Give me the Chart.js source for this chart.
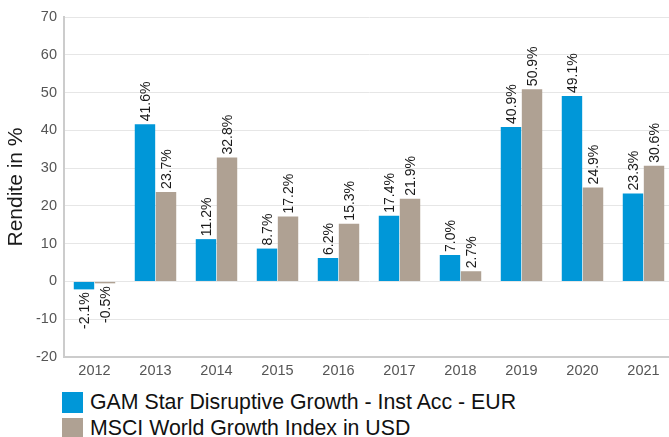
<!DOCTYPE html>
<html>
<head>
<meta charset="utf-8">
<script src="https://cdn.jsdelivr.net/npm/chart.js@4.4.0/dist/chart.umd.min.js"></script>
<style>
  html, body { margin: 0; padding: 0; background: #fff; overflow: hidden; }
  #wrap { position: relative; width: 675px; height: 437px; }
  #box { position: absolute; left: 0; top: 0; width: 675px; height: 384px; }
  #legend { position: absolute; left: 62px; top: 389px; font-family: "Liberation Sans", Arial, sans-serif; font-size: 21.3px; color: #111; }
  .item { display: flex; align-items: center; height: 26px; margin: 0; }
  .sw { width: 21px; height: 21px; margin-right: 7px; flex: none; }
</style>
</head>
<body>
<div id="wrap">
  <div id="box"><canvas id="reportChart"></canvas></div>
  <div id="legend"></div>
</div>
<script>
var years = ['2012', '2013', '2014', '2015', '2016', '2017', '2018', '2019', '2020', '2021']
var gamValues = [-2.1, 41.6, 11.2, 8.7, 6.2, 17.4, 7.0, 40.9, 49.1, 23.3]
var msciValues = [-0.5, 23.7, 32.8, 17.2, 15.3, 21.9, 2.7, 50.9, 24.9, 30.6]
var seriesNames = ['GAM Star Disruptive Growth - Inst Acc - EUR', 'MSCI World Growth Index in USD']
var seriesColors = ['#0097d8', '#afa193']

var fontName = '"Liberation Sans", Arial, sans-serif'

// value labels, rotated, at the end of each bar
var barLabels = {
    id: 'barLabels',
    afterDatasetsDraw: function(chart) {
        var ctx = chart.ctx
        ctx.save()
        ctx.font = '14px ' + fontName
        ctx.fillStyle = '#1a1a1a'
        ctx.textBaseline = 'middle'
        chart.data.datasets.forEach(function(ds, i) {
            var meta = chart.getDatasetMeta(i)
            meta.data.forEach(function(bar, j) {
                var v = ds.data[j]
                var txt = v.toFixed(1) + '%'
                ctx.save()
                if (v >= 0) {
                    ctx.translate(bar.x, bar.y - 3)
                    ctx.rotate(-Math.PI / 2)
                    ctx.textAlign = 'left'
                } else {
                    ctx.translate(bar.x, bar.y + 3)
                    ctx.rotate(-Math.PI / 2)
                    ctx.textAlign = 'right'
                }
                ctx.fillText(txt, 0, 1)
                ctx.restore()
            })
        })
        ctx.restore()
    }
}

var canvasElement = document.getElementById('reportChart')
var configure = {
    type: 'bar',
    data: {
        labels: years,
        datasets: [{
            label: seriesNames[0],
            backgroundColor: seriesColors[0],
            data: gamValues,
            categoryPercentage: 0.69,
            barPercentage: 0.97
        }, {
            label: seriesNames[1],
            backgroundColor: seriesColors[1],
            data: msciValues,
            categoryPercentage: 0.69,
            barPercentage: 0.97
        }]
    },
    options: {
        responsive: true,
        maintainAspectRatio: false,
        animation: false,
        layout: { padding: { top: 17, right: 1, left: 0, bottom: 0 } },
        plugins: {
            legend: { display: false },
            tooltip: { enabled: false }
        },
        scales: {
            x: {
                grid: { display: false, drawTicks: false },
                border: { display: true, color: '#cccccc', width: 2 },
                ticks: { color: '#555555', font: { size: 14.5, family: fontName }, padding: 5, maxRotation: 0 },
                afterFit: function(scale) { scale.height = 27 }
            },
            y: {
                min: -20,
                max: 70,
                grid: { color: '#e6e6e6', lineWidth: 1, drawTicks: false },
                border: { display: true, color: '#cccccc', width: 2 },
                ticks: { stepSize: 10, color: '#555555', font: { size: 14.5, family: fontName }, padding: 7 },
                title: {
                    display: true,
                    text: 'Rendite in %',
                    color: '#1a1a1a',
                    font: { size: 21, family: fontName },
                    padding: { top: 4, bottom: 4 }
                },
                afterFit: function(scale) { scale.width = 64 }
            }
        }
    },
    plugins: [barLabels]
}

var reportChart = new Chart(canvasElement, configure)

// legend built from the chart's datasets
var legendBox = document.getElementById('legend')
reportChart.data.datasets.forEach(function(ds) {
    var row = document.createElement('div')
    row.className = 'item'
    var sw = document.createElement('span')
    sw.className = 'sw'
    sw.style.background = ds.backgroundColor
    var tx = document.createElement('span')
    tx.textContent = ds.label
    row.appendChild(sw)
    row.appendChild(tx)
    legendBox.appendChild(row)
})
</script>
</body>
</html>
